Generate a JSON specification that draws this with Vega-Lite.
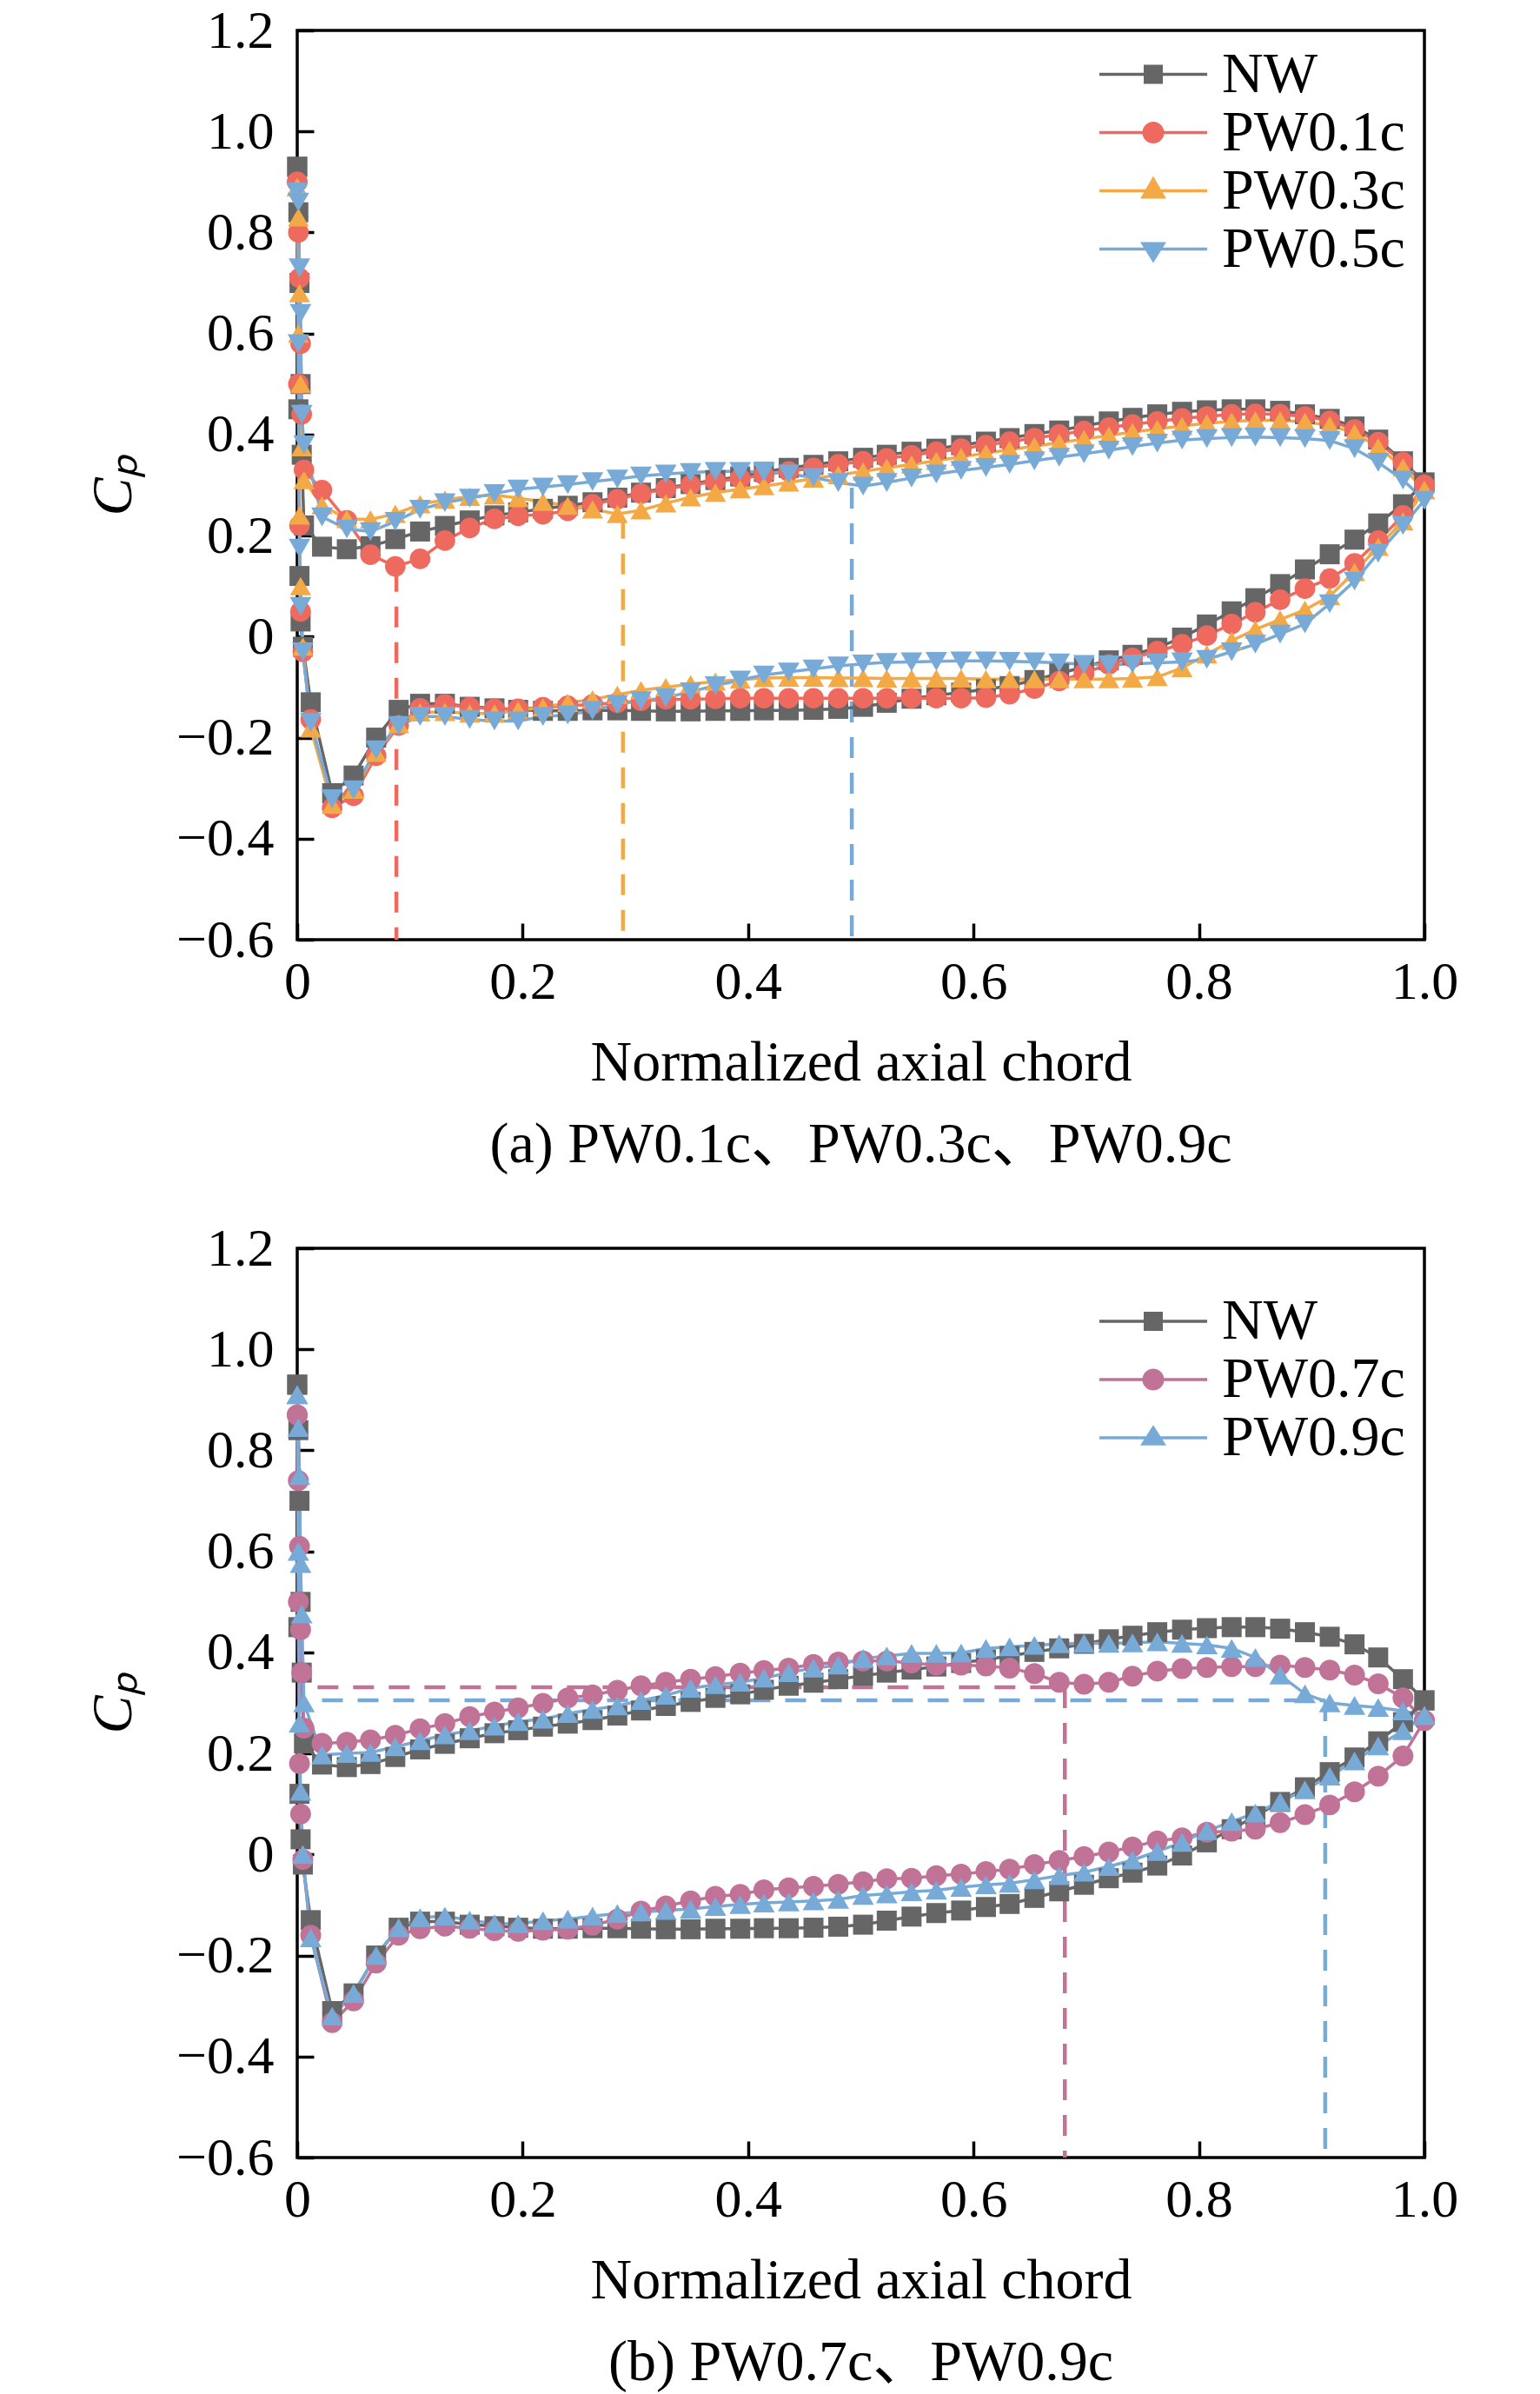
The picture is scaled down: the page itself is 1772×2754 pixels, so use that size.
{
  "$schema": "https://vega.github.io/schema/vega-lite/v6.json",
  "background": "white",
  "padding": {"left": 95, "top": 2, "right": 0, "bottom": 0},
  "spacing": 355,
  "bounds": "flush",
  "resolve": {
    "scale": {"color": "independent", "shape": "independent", "size": "independent", "x": "independent", "y": "independent"},
    "legend": {"shape": "independent", "color": "independent", "size": "independent"}
  },
  "config": {
    "view": {"stroke": "#000", "strokeWidth": 3.5},
    "axis": {
      "domain": false, "grid": false, "ticks": true,
      "tickColor": "#000", "tickWidth": 3.5, "tickSize": -19,
      "labelFont": "Liberation Serif", "labelFontSize": 62, "labelColor": "#000",
      "titleFont": "Liberation Serif", "titleFontSize": 66, "titleFontWeight": "normal", "titleColor": "#000",
      "labelOverlap": false, "labelFlush": false, "labelBound": false
    },
    "axisX": {"labelPadding": 37, "titlePadding": 30},
    "axisY": {"labelPadding": 46, "titlePadding": 38},
    "legend": {
      "title": null, "orient": "none", "padding": 0, "rowPadding": 1,
      "symbolSize": 484, "symbolStrokeWidth": 0, "symbolOpacity": 1,
      "labelOffset": 46, "labelFont": "Liberation Serif", "labelFontSize": 66, "labelColor": "#000", "labelLimit": 0
    },
    "title": {
      "font": "Liberation Serif, Noto Sans CJK SC", "fontSize": 66, "fontWeight": "normal",
      "color": "#000", "orient": "bottom", "offset": 30, "anchor": "middle"
    }
  },
  "datasets": {
    "pa": [
      {"s":"u","x":0,"NW":0.93,"P1":0.90,"P3":0.89,"P5":0.88},
      {"s":"u","x":0.001,"NW":0.84,"P1":0.80,"P3":0.83,"P5":0.86},
      {"s":"u","x":0.002,"NW":0.70,"P1":0.71,"P3":0.68,"P5":0.73},
      {"s":"u","x":0.003,"NW":0.50,"P1":0.58,"P3":0.50,"P5":0.64},
      {"s":"u","x":0.004,"NW":0.36,"P1":0.44,"P3":0.375,"P5":0.44},
      {"s":"u","x":0.006,"NW":0.22,"P1":0.33,"P3":0.31,"P5":0.38},
      {"s":"u","x":0.022,"NW":0.178,"P1":0.290,"P3":0.260,"P5":0.237},
      {"s":"u","x":0.044,"NW":0.173,"P1":0.230,"P3":0.233,"P5":0.213},
      {"s":"u","x":0.065,"NW":0.179,"P1":0.162,"P3":0.232,"P5":0.208},
      {"s":"u","x":0.087,"NW":0.193,"P1":0.139,"P3":0.243,"P5":0.228},
      {"s":"u","x":0.109,"NW":0.208,"P1":0.154,"P3":0.262,"P5":0.252},
      {"s":"u","x":0.131,"NW":0.219,"P1":0.190,"P3":0.271,"P5":0.265},
      {"s":"u","x":0.153,"NW":0.230,"P1":0.215,"P3":0.277,"P5":0.274},
      {"s":"u","x":0.175,"NW":0.240,"P1":0.233,"P3":0.280,"P5":0.283},
      {"s":"u","x":0.196,"NW":0.246,"P1":0.239,"P3":0.274,"P5":0.292},
      {"s":"u","x":0.218,"NW":0.253,"P1":0.242,"P3":0.267,"P5":0.296},
      {"s":"u","x":0.240,"NW":0.259,"P1":0.249,"P3":0.259,"P5":0.301},
      {"s":"u","x":0.262,"NW":0.266,"P1":0.262,"P3":0.252,"P5":0.307},
      {"s":"u","x":0.284,"NW":0.275,"P1":0.272,"P3":0.243,"P5":0.312},
      {"s":"u","x":0.305,"NW":0.285,"P1":0.283,"P3":0.250,"P5":0.318},
      {"s":"u","x":0.327,"NW":0.294,"P1":0.292,"P3":0.264,"P5":0.322},
      {"s":"u","x":0.349,"NW":0.302,"P1":0.300,"P3":0.276,"P5":0.325},
      {"s":"u","x":0.371,"NW":0.310,"P1":0.307,"P3":0.285,"P5":0.327},
      {"s":"u","x":0.393,"NW":0.317,"P1":0.313,"P3":0.292,"P5":0.327},
      {"s":"u","x":0.414,"NW":0.326,"P1":0.320,"P3":0.298,"P5":0.326},
      {"s":"u","x":0.436,"NW":0.334,"P1":0.327,"P3":0.305,"P5":0.322},
      {"s":"u","x":0.458,"NW":0.340,"P1":0.334,"P3":0.313,"P5":0.315},
      {"s":"u","x":0.480,"NW":0.347,"P1":0.341,"P3":0.320,"P5":0.305},
      {"s":"u","x":0.502,"NW":0.354,"P1":0.347,"P3":0.327,"P5":0.298},
      {"s":"u","x":0.523,"NW":0.360,"P1":0.353,"P3":0.334,"P5":0.305},
      {"s":"u","x":0.545,"NW":0.366,"P1":0.359,"P3":0.341,"P5":0.314},
      {"s":"u","x":0.567,"NW":0.372,"P1":0.366,"P3":0.348,"P5":0.322},
      {"s":"u","x":0.589,"NW":0.379,"P1":0.372,"P3":0.356,"P5":0.329},
      {"s":"u","x":0.611,"NW":0.386,"P1":0.379,"P3":0.363,"P5":0.335},
      {"s":"u","x":0.632,"NW":0.393,"P1":0.386,"P3":0.370,"P5":0.341},
      {"s":"u","x":0.654,"NW":0.401,"P1":0.393,"P3":0.377,"P5":0.348},
      {"s":"u","x":0.676,"NW":0.408,"P1":0.400,"P3":0.384,"P5":0.355},
      {"s":"u","x":0.698,"NW":0.417,"P1":0.407,"P3":0.391,"P5":0.362},
      {"s":"u","x":0.720,"NW":0.426,"P1":0.414,"P3":0.398,"P5":0.369},
      {"s":"u","x":0.741,"NW":0.433,"P1":0.420,"P3":0.405,"P5":0.376},
      {"s":"u","x":0.763,"NW":0.440,"P1":0.426,"P3":0.411,"P5":0.383},
      {"s":"u","x":0.785,"NW":0.445,"P1":0.432,"P3":0.417,"P5":0.389},
      {"s":"u","x":0.807,"NW":0.448,"P1":0.436,"P3":0.422,"P5":0.392},
      {"s":"u","x":0.829,"NW":0.450,"P1":0.440,"P3":0.426,"P5":0.394},
      {"s":"u","x":0.850,"NW":0.450,"P1":0.441,"P3":0.428,"P5":0.395},
      {"s":"u","x":0.872,"NW":0.447,"P1":0.440,"P3":0.428,"P5":0.394},
      {"s":"u","x":0.894,"NW":0.440,"P1":0.436,"P3":0.425,"P5":0.392},
      {"s":"u","x":0.916,"NW":0.431,"P1":0.427,"P3":0.418,"P5":0.388},
      {"s":"u","x":0.938,"NW":0.416,"P1":0.410,"P3":0.403,"P5":0.372},
      {"s":"u","x":0.959,"NW":0.390,"P1":0.385,"P3":0.375,"P5":0.345},
      {"s":"u","x":0.981,"NW":0.347,"P1":0.345,"P3":0.335,"P5":0.310},
      {"s":"u","x":1.0,"NW":0.305,"P1":0.300,"P3":0.290,"P5":0.270},
      {"s":"l","x":0,"NW":0.93,"P1":0.90,"P3":0.89,"P5":0.88},
      {"s":"l","x":0.001,"NW":0.45,"P1":0.50,"P3":0.60,"P5":0.58},
      {"s":"l","x":0.002,"NW":0.12,"P1":0.22,"P3":0.24,"P5":0.175},
      {"s":"l","x":0.003,"NW":0.03,"P1":0.05,"P3":0.10,"P5":0.06},
      {"s":"l","x":0.005,"NW":-0.02,"P1":-0.03,"P3":-0.02,"P5":-0.03},
      {"s":"l","x":0.012,"NW":-0.13,"P1":-0.164,"P3":-0.182,"P5":-0.17},
      {"s":"l","x":0.031,"NW":-0.31,"P1":-0.339,"P3":-0.333,"P5":-0.321},
      {"s":"l","x":0.050,"NW":-0.275,"P1":-0.315,"P3":-0.303,"P5":-0.303},
      {"s":"l","x":0.070,"NW":-0.20,"P1":-0.236,"P3":-0.23,"P5":-0.224},
      {"s":"l","x":0.090,"NW":-0.145,"P1":-0.176,"P3":-0.173,"P5":-0.176},
      {"s":"l","x":0.109,"NW":-0.133,"P1":-0.142,"P3":-0.150,"P5":-0.158},
      {"s":"l","x":0.131,"NW":-0.133,"P1":-0.134,"P3":-0.149,"P5":-0.158},
      {"s":"l","x":0.153,"NW":-0.139,"P1":-0.140,"P3":-0.152,"P5":-0.164},
      {"s":"l","x":0.175,"NW":-0.142,"P1":-0.143,"P3":-0.152,"P5":-0.167},
      {"s":"l","x":0.196,"NW":-0.145,"P1":-0.143,"P3":-0.146,"P5":-0.167},
      {"s":"l","x":0.218,"NW":-0.147,"P1":-0.140,"P3":-0.140,"P5":-0.158},
      {"s":"l","x":0.240,"NW":-0.147,"P1":-0.137,"P3":-0.131,"P5":-0.155},
      {"s":"l","x":0.262,"NW":-0.146,"P1":-0.134,"P3":-0.124,"P5":-0.146},
      {"s":"l","x":0.284,"NW":-0.146,"P1":-0.131,"P3":-0.115,"P5":-0.134},
      {"s":"l","x":0.305,"NW":-0.147,"P1":-0.127,"P3":-0.106,"P5":-0.127},
      {"s":"l","x":0.327,"NW":-0.148,"P1":-0.124,"P3":-0.100,"P5":-0.121},
      {"s":"l","x":0.349,"NW":-0.148,"P1":-0.124,"P3":-0.094,"P5":-0.109},
      {"s":"l","x":0.371,"NW":-0.147,"P1":-0.123,"P3":-0.089,"P5":-0.097},
      {"s":"l","x":0.393,"NW":-0.147,"P1":-0.122,"P3":-0.085,"P5":-0.086},
      {"s":"l","x":0.414,"NW":-0.146,"P1":-0.122,"P3":-0.082,"P5":-0.076},
      {"s":"l","x":0.436,"NW":-0.146,"P1":-0.122,"P3":-0.081,"P5":-0.070},
      {"s":"l","x":0.458,"NW":-0.145,"P1":-0.122,"P3":-0.081,"P5":-0.064},
      {"s":"l","x":0.480,"NW":-0.143,"P1":-0.122,"P3":-0.082,"P5":-0.058},
      {"s":"l","x":0.502,"NW":-0.139,"P1":-0.122,"P3":-0.082,"P5":-0.054},
      {"s":"l","x":0.523,"NW":-0.131,"P1":-0.122,"P3":-0.083,"P5":-0.051},
      {"s":"l","x":0.545,"NW":-0.123,"P1":-0.122,"P3":-0.083,"P5":-0.050},
      {"s":"l","x":0.567,"NW":-0.116,"P1":-0.122,"P3":-0.083,"P5":-0.049},
      {"s":"l","x":0.589,"NW":-0.111,"P1":-0.122,"P3":-0.083,"P5":-0.048},
      {"s":"l","x":0.611,"NW":-0.104,"P1":-0.121,"P3":-0.084,"P5":-0.048},
      {"s":"l","x":0.632,"NW":-0.098,"P1":-0.114,"P3":-0.084,"P5":-0.049},
      {"s":"l","x":0.654,"NW":-0.086,"P1":-0.103,"P3":-0.084,"P5":-0.050},
      {"s":"l","x":0.676,"NW":-0.073,"P1":-0.088,"P3":-0.084,"P5":-0.052},
      {"s":"l","x":0.698,"NW":-0.060,"P1":-0.072,"P3":-0.084,"P5":-0.055},
      {"s":"l","x":0.720,"NW":-0.047,"P1":-0.055,"P3":-0.084,"P5":-0.056},
      {"s":"l","x":0.741,"NW":-0.036,"P1":-0.042,"P3":-0.083,"P5":-0.054},
      {"s":"l","x":0.763,"NW":-0.022,"P1":-0.029,"P3":-0.080,"P5":-0.052},
      {"s":"l","x":0.785,"NW":-0.002,"P1":-0.015,"P3":-0.062,"P5":-0.050},
      {"s":"l","x":0.807,"NW":0.024,"P1":0.002,"P3":-0.035,"P5":-0.045},
      {"s":"l","x":0.829,"NW":0.050,"P1":0.025,"P3":-0.008,"P5":-0.030},
      {"s":"l","x":0.850,"NW":0.076,"P1":0.048,"P3":0.014,"P5":-0.015},
      {"s":"l","x":0.872,"NW":0.104,"P1":0.073,"P3":0.034,"P5":0.005},
      {"s":"l","x":0.894,"NW":0.133,"P1":0.095,"P3":0.053,"P5":0.025},
      {"s":"l","x":0.916,"NW":0.163,"P1":0.115,"P3":0.080,"P5":0.065},
      {"s":"l","x":0.938,"NW":0.192,"P1":0.145,"P3":0.128,"P5":0.110},
      {"s":"l","x":0.959,"NW":0.224,"P1":0.190,"P3":0.178,"P5":0.165},
      {"s":"l","x":0.981,"NW":0.262,"P1":0.240,"P3":0.228,"P5":0.220},
      {"s":"l","x":1.0,"NW":0.305,"P1":0.300,"P3":0.290,"P5":0.270}
    ],
    "pb": [
      {"s":"u","x":0,"NW":0.93,"P7":0.87,"P9":0.91},
      {"s":"u","x":0.001,"NW":0.84,"P7":0.74,"P9":0.845},
      {"s":"u","x":0.002,"NW":0.70,"P7":0.61,"P9":0.75},
      {"s":"u","x":0.003,"NW":0.50,"P7":0.445,"P9":0.576},
      {"s":"u","x":0.004,"NW":0.36,"P7":0.36,"P9":0.476},
      {"s":"u","x":0.006,"NW":0.22,"P7":0.25,"P9":0.30},
      {"s":"u","x":0.022,"NW":0.178,"P7":0.220,"P9":0.197},
      {"s":"u","x":0.044,"NW":0.173,"P7":0.222,"P9":0.200},
      {"s":"u","x":0.065,"NW":0.179,"P7":0.227,"P9":0.202},
      {"s":"u","x":0.087,"NW":0.193,"P7":0.236,"P9":0.213},
      {"s":"u","x":0.109,"NW":0.208,"P7":0.249,"P9":0.225},
      {"s":"u","x":0.131,"NW":0.219,"P7":0.259,"P9":0.237},
      {"s":"u","x":0.153,"NW":0.230,"P7":0.273,"P9":0.245},
      {"s":"u","x":0.175,"NW":0.240,"P7":0.282,"P9":0.254},
      {"s":"u","x":0.196,"NW":0.246,"P7":0.290,"P9":0.263},
      {"s":"u","x":0.218,"NW":0.253,"P7":0.299,"P9":0.268},
      {"s":"u","x":0.240,"NW":0.259,"P7":0.310,"P9":0.279},
      {"s":"u","x":0.262,"NW":0.266,"P7":0.316,"P9":0.287},
      {"s":"u","x":0.284,"NW":0.275,"P7":0.325,"P9":0.294},
      {"s":"u","x":0.305,"NW":0.285,"P7":0.334,"P9":0.305},
      {"s":"u","x":0.327,"NW":0.294,"P7":0.341,"P9":0.315},
      {"s":"u","x":0.349,"NW":0.302,"P7":0.347,"P9":0.329},
      {"s":"u","x":0.371,"NW":0.310,"P7":0.352,"P9":0.336},
      {"s":"u","x":0.393,"NW":0.317,"P7":0.359,"P9":0.341},
      {"s":"u","x":0.414,"NW":0.326,"P7":0.364,"P9":0.349},
      {"s":"u","x":0.436,"NW":0.334,"P7":0.369,"P9":0.360},
      {"s":"u","x":0.458,"NW":0.340,"P7":0.376,"P9":0.369},
      {"s":"u","x":0.480,"NW":0.347,"P7":0.381,"P9":0.375},
      {"s":"u","x":0.502,"NW":0.354,"P7":0.383,"P9":0.388},
      {"s":"u","x":0.523,"NW":0.360,"P7":0.383,"P9":0.393},
      {"s":"u","x":0.545,"NW":0.366,"P7":0.379,"P9":0.398},
      {"s":"u","x":0.567,"NW":0.372,"P7":0.375,"P9":0.398},
      {"s":"u","x":0.589,"NW":0.379,"P7":0.375,"P9":0.399},
      {"s":"u","x":0.611,"NW":0.386,"P7":0.373,"P9":0.408},
      {"s":"u","x":0.632,"NW":0.393,"P7":0.369,"P9":0.411},
      {"s":"u","x":0.654,"NW":0.401,"P7":0.358,"P9":0.414},
      {"s":"u","x":0.676,"NW":0.408,"P7":0.341,"P9":0.417},
      {"s":"u","x":0.698,"NW":0.417,"P7":0.337,"P9":0.418},
      {"s":"u","x":0.720,"NW":0.426,"P7":0.341,"P9":0.418},
      {"s":"u","x":0.741,"NW":0.433,"P7":0.353,"P9":0.419},
      {"s":"u","x":0.763,"NW":0.440,"P7":0.363,"P9":0.421},
      {"s":"u","x":0.785,"NW":0.445,"P7":0.368,"P9":0.418},
      {"s":"u","x":0.807,"NW":0.448,"P7":0.370,"P9":0.415},
      {"s":"u","x":0.829,"NW":0.450,"P7":0.372,"P9":0.408},
      {"s":"u","x":0.850,"NW":0.450,"P7":0.372,"P9":0.390},
      {"s":"u","x":0.872,"NW":0.447,"P7":0.375,"P9":0.355},
      {"s":"u","x":0.894,"NW":0.440,"P7":0.370,"P9":0.318},
      {"s":"u","x":0.916,"NW":0.431,"P7":0.365,"P9":0.300},
      {"s":"u","x":0.938,"NW":0.416,"P7":0.355,"P9":0.295},
      {"s":"u","x":0.959,"NW":0.390,"P7":0.338,"P9":0.291},
      {"s":"u","x":0.981,"NW":0.347,"P7":0.310,"P9":0.284},
      {"s":"u","x":1.0,"NW":0.305,"P7":0.265,"P9":0.275},
      {"s":"l","x":0,"NW":0.93,"P7":0.87,"P9":0.91},
      {"s":"l","x":0.001,"NW":0.45,"P7":0.50,"P9":0.60},
      {"s":"l","x":0.002,"NW":0.12,"P7":0.18,"P9":0.26},
      {"s":"l","x":0.003,"NW":0.03,"P7":0.08,"P9":0.125},
      {"s":"l","x":0.005,"NW":-0.02,"P7":-0.01,"P9":0.0},
      {"s":"l","x":0.012,"NW":-0.13,"P7":-0.16,"P9":-0.165},
      {"s":"l","x":0.031,"NW":-0.31,"P7":-0.333,"P9":-0.32},
      {"s":"l","x":0.050,"NW":-0.275,"P7":-0.29,"P9":-0.275},
      {"s":"l","x":0.070,"NW":-0.20,"P7":-0.215,"P9":-0.20},
      {"s":"l","x":0.090,"NW":-0.145,"P7":-0.16,"P9":-0.145},
      {"s":"l","x":0.109,"NW":-0.133,"P7":-0.147,"P9":-0.125},
      {"s":"l","x":0.131,"NW":-0.133,"P7":-0.142,"P9":-0.122},
      {"s":"l","x":0.153,"NW":-0.139,"P7":-0.146,"P9":-0.130},
      {"s":"l","x":0.175,"NW":-0.142,"P7":-0.151,"P9":-0.137},
      {"s":"l","x":0.196,"NW":-0.145,"P7":-0.152,"P9":-0.137},
      {"s":"l","x":0.218,"NW":-0.147,"P7":-0.150,"P9":-0.131},
      {"s":"l","x":0.240,"NW":-0.147,"P7":-0.148,"P9":-0.128},
      {"s":"l","x":0.262,"NW":-0.146,"P7":-0.140,"P9":-0.122},
      {"s":"l","x":0.284,"NW":-0.146,"P7":-0.128,"P9":-0.117},
      {"s":"l","x":0.305,"NW":-0.147,"P7":-0.112,"P9":-0.114},
      {"s":"l","x":0.327,"NW":-0.148,"P7":-0.102,"P9":-0.111},
      {"s":"l","x":0.349,"NW":-0.148,"P7":-0.092,"P9":-0.108},
      {"s":"l","x":0.371,"NW":-0.147,"P7":-0.083,"P9":-0.103},
      {"s":"l","x":0.393,"NW":-0.147,"P7":-0.079,"P9":-0.099},
      {"s":"l","x":0.414,"NW":-0.146,"P7":-0.070,"P9":-0.096},
      {"s":"l","x":0.436,"NW":-0.146,"P7":-0.066,"P9":-0.094},
      {"s":"l","x":0.458,"NW":-0.145,"P7":-0.063,"P9":-0.092},
      {"s":"l","x":0.480,"NW":-0.143,"P7":-0.059,"P9":-0.089},
      {"s":"l","x":0.502,"NW":-0.139,"P7":-0.054,"P9":-0.081},
      {"s":"l","x":0.523,"NW":-0.131,"P7":-0.048,"P9":-0.078},
      {"s":"l","x":0.545,"NW":-0.123,"P7":-0.047,"P9":-0.074},
      {"s":"l","x":0.567,"NW":-0.116,"P7":-0.042,"P9":-0.071},
      {"s":"l","x":0.589,"NW":-0.111,"P7":-0.039,"P9":-0.065},
      {"s":"l","x":0.611,"NW":-0.104,"P7":-0.034,"P9":-0.060},
      {"s":"l","x":0.632,"NW":-0.098,"P7":-0.029,"P9":-0.057},
      {"s":"l","x":0.654,"NW":-0.086,"P7":-0.020,"P9":-0.050},
      {"s":"l","x":0.676,"NW":-0.073,"P7":-0.012,"P9":-0.042},
      {"s":"l","x":0.698,"NW":-0.060,"P7":-0.004,"P9":-0.035},
      {"s":"l","x":0.720,"NW":-0.047,"P7":0.005,"P9":-0.024},
      {"s":"l","x":0.741,"NW":-0.036,"P7":0.015,"P9":-0.011},
      {"s":"l","x":0.763,"NW":-0.022,"P7":0.027,"P9":0.006},
      {"s":"l","x":0.785,"NW":-0.002,"P7":0.033,"P9":0.024},
      {"s":"l","x":0.807,"NW":0.024,"P7":0.044,"P9":0.047},
      {"s":"l","x":0.829,"NW":0.050,"P7":0.046,"P9":0.065},
      {"s":"l","x":0.850,"NW":0.076,"P7":0.050,"P9":0.082},
      {"s":"l","x":0.872,"NW":0.104,"P7":0.063,"P9":0.104},
      {"s":"l","x":0.894,"NW":0.133,"P7":0.079,"P9":0.128},
      {"s":"l","x":0.916,"NW":0.163,"P7":0.098,"P9":0.155},
      {"s":"l","x":0.938,"NW":0.192,"P7":0.124,"P9":0.185},
      {"s":"l","x":0.959,"NW":0.224,"P7":0.155,"P9":0.215},
      {"s":"l","x":0.981,"NW":0.262,"P7":0.195,"P9":0.245},
      {"s":"l","x":1.0,"NW":0.305,"P7":0.265,"P9":0.275}
    ],
    "da": [
      {"s":"P1","x":0.088,"x2":0.088,"y":0.13,"y2":-0.6},
      {"s":"P3","x":0.289,"x2":0.289,"y":0.235,"y2":-0.6},
      {"s":"P5","x":0.492,"x2":0.492,"y":0.295,"y2":-0.6}
    ],
    "db": [
      {"s":"P7","x":0.018,"x2":0.681,"y":0.331,"y2":0.331},
      {"s":"P7","x":0.681,"x2":0.681,"y":0.331,"y2":-0.6},
      {"s":"P9","x":0.022,"x2":0.912,"y":0.305,"y2":0.305},
      {"s":"P9","x":0.912,"x2":0.912,"y":0.305,"y2":-0.6}
    ]
  },
  "vconcat": [
    {
      "width": 1297,
      "height": 1046,
      "title": {"text": "(a) PW0.1c、PW0.3c、PW0.9c"},
      "resolve": {
        "scale": {"color": "independent", "shape": "independent", "size": "independent"},
        "legend": {"color": "independent", "shape": "independent", "size": "independent"}
      },
      "layer": [
        {
          "data": {"name": "da"},
          "mark": {"type": "rule", "strokeDash": [24, 17], "strokeWidth": 4.5},
          "encoding": {
            "x": {"field": "x", "type": "quantitative", "scale": {"domain": [0, 1], "nice": false, "zero": false}},
            "x2": {"field": "x2"},
            "y": {"field": "y", "type": "quantitative", "scale": {"domain": [-0.6, 1.2], "nice": false, "zero": false}},
            "y2": {"field": "y2"},
            "color": {"field": "s", "type": "nominal", "legend": null,
              "scale": {"domain": ["NW", "P1", "P3", "P5"], "range": ["#666666", "#EE6A5E", "#F4A947", "#78AAD8"]}}
          }
        },
        {
          "data": {"name": "pa"},
          "transform": [
            {"fold": ["NW", "P1", "P3", "P5"], "as": ["series", "cp"]},
            {"filter": "isValid(datum.cp)"}
          ],
          "mark": {"type": "line", "strokeWidth": 3.5},
          "encoding": {
            "x": {"field": "x", "type": "quantitative",
              "axis": {"title": "Normalized axial chord", "values": [0, 0.2, 0.4, 0.6, 0.8, 1],
                "labelExpr": "datum.value === 0 ? '0' : format(datum.value, '.1f')"}},
            "y": {"field": "cp", "type": "quantitative",
              "axis": {"title": "Cₚ", "titleFontStyle": "italic", "values": [-0.6, -0.4, -0.2, 0, 0.2, 0.4, 0.6, 0.8, 1.0, 1.2],
                "labelExpr": "datum.value === 0 ? '0' : format(datum.value, '.1f')"}},
            "color": {"field": "series", "type": "nominal", "legend": null,
              "scale": {"domain": ["NW", "P1", "P3", "P5"], "range": ["#666666", "#EE6A5E", "#F4A947", "#78AAD8"]}},
            "detail": {"field": "s"}
          }
        },
        {
          "data": {"name": "pa"},
          "transform": [
            {"fold": ["NW", "P1", "P3", "P5"], "as": ["series", "cp"]},
            {"filter": "isValid(datum.cp)"}
          ],
          "mark": {"type": "point", "filled": true, "opacity": 1, "strokeWidth": 0},
          "encoding": {
            "x": {"field": "x", "type": "quantitative"},
            "y": {"field": "cp", "type": "quantitative"},
            "order": {"field": "series", "type": "ordinal"},
            "color": {"field": "series", "type": "nominal", "legend": null,
              "scale": {"domain": ["NW", "P1", "P3", "P5"], "range": ["#666666", "#EE6A5E", "#F4A947", "#78AAD8"]}},
            "size": {"field": "series", "type": "nominal", "legend": null,
              "scale": {"domain": ["NW", "P1", "P3", "P5"], "range": [529, 620, 850, 850]}},
            "shape": {"field": "series", "type": "nominal", "legend": null,
              "scale": {"domain": ["NW", "P1", "P3", "P5"], "range": ["square", "circle", "triangle-up", "triangle-down"]}}
          }
        },
        {
          "data": {"name": "pa"},
          "transform": [
            {"fold": ["NW", "P1", "P3", "P5"], "as": ["series", "cp"]},
            {"filter": "false"}
          ],
          "mark": {"type": "point", "filled": true, "opacity": 1},
          "encoding": {
            "x": {"field": "x", "type": "quantitative"},
            "y": {"field": "cp", "type": "quantitative"},
            "color": {"field": "series", "type": "nominal",
              "scale": {"domain": ["NW", "P1", "P3", "P5"], "range": ["#666666", "#EE6A5E", "#F4A947", "#78AAD8"]},
              "legend": {"legendX": 952, "legendY": 17.5,
                "labelExpr": "datum.label === 'P1' ? 'PW0.1c' : datum.label === 'P3' ? 'PW0.3c' : datum.label === 'P5' ? 'PW0.5c' : datum.label"}},
            "shape": {"field": "series", "type": "nominal",
              "scale": {"domain": ["NW", "P1", "P3", "P5"], "range": [
                "M-5.64,-0.16H5.64V0.16H-5.64ZM-1,-1H1V1H-1Z",
                "M-5.64,-0.16H5.64V0.16H-5.64ZM1.14,0A1.14,1.14,0,1,1,-1.14,0A1.14,1.14,0,1,1,1.14,0Z",
                "M-5.64,-0.16H5.64V0.16H-5.64ZM0,-1.55L1.36,0.82L-1.36,0.82Z",
                "M-5.64,-0.16H5.64V0.16H-5.64ZM0,1.45L-1.36,-0.73L1.36,-0.73Z"]},
              "legend": {"legendX": 952, "legendY": 17.5,
                "labelExpr": "datum.label === 'P1' ? 'PW0.1c' : datum.label === 'P3' ? 'PW0.3c' : datum.label === 'P5' ? 'PW0.5c' : datum.label"}}
          }
        }
      ]
    },
    {
      "width": 1297,
      "height": 1046,
      "title": {"text": "(b) PW0.7c、PW0.9c"},
      "resolve": {
        "scale": {"color": "independent", "shape": "independent", "size": "independent"},
        "legend": {"color": "independent", "shape": "independent", "size": "independent"}
      },
      "layer": [
        {
          "data": {"name": "db"},
          "mark": {"type": "rule", "strokeDash": [24, 17], "strokeWidth": 4.5},
          "encoding": {
            "x": {"field": "x", "type": "quantitative", "scale": {"domain": [0, 1], "nice": false, "zero": false}},
            "x2": {"field": "x2"},
            "y": {"field": "y", "type": "quantitative", "scale": {"domain": [-0.6, 1.2], "nice": false, "zero": false}},
            "y2": {"field": "y2"},
            "color": {"field": "s", "type": "nominal", "legend": null,
              "scale": {"domain": ["NW", "P7", "P9"], "range": ["#666666", "#C07397", "#78AAD8"]}}
          }
        },
        {
          "data": {"name": "pb"},
          "transform": [
            {"fold": ["NW", "P7", "P9"], "as": ["series", "cp"]},
            {"filter": "isValid(datum.cp)"}
          ],
          "mark": {"type": "line", "strokeWidth": 3.5},
          "encoding": {
            "x": {"field": "x", "type": "quantitative",
              "axis": {"title": "Normalized axial chord", "values": [0, 0.2, 0.4, 0.6, 0.8, 1],
                "labelExpr": "datum.value === 0 ? '0' : format(datum.value, '.1f')"}},
            "y": {"field": "cp", "type": "quantitative",
              "axis": {"title": "Cₚ", "titleFontStyle": "italic", "values": [-0.6, -0.4, -0.2, 0, 0.2, 0.4, 0.6, 0.8, 1.0, 1.2],
                "labelExpr": "datum.value === 0 ? '0' : format(datum.value, '.1f')"}},
            "color": {"field": "series", "type": "nominal", "legend": null,
              "scale": {"domain": ["NW", "P7", "P9"], "range": ["#666666", "#C07397", "#78AAD8"]}},
            "detail": {"field": "s"}
          }
        },
        {
          "data": {"name": "pb"},
          "transform": [
            {"fold": ["NW", "P7", "P9"], "as": ["series", "cp"]},
            {"filter": "isValid(datum.cp)"}
          ],
          "mark": {"type": "point", "filled": true, "opacity": 1, "strokeWidth": 0},
          "encoding": {
            "x": {"field": "x", "type": "quantitative"},
            "y": {"field": "cp", "type": "quantitative"},
            "order": {"field": "series", "type": "ordinal"},
            "color": {"field": "series", "type": "nominal", "legend": null,
              "scale": {"domain": ["NW", "P7", "P9"], "range": ["#666666", "#C07397", "#78AAD8"]}},
            "size": {"field": "series", "type": "nominal", "legend": null,
              "scale": {"domain": ["NW", "P7", "P9"], "range": [529, 620, 850]}},
            "shape": {"field": "series", "type": "nominal", "legend": null,
              "scale": {"domain": ["NW", "P7", "P9"], "range": ["square", "circle", "triangle-up"]}}
          }
        },
        {
          "data": {"name": "pb"},
          "transform": [
            {"fold": ["NW", "P7", "P9"], "as": ["series", "cp"]},
            {"filter": "false"}
          ],
          "mark": {"type": "point", "filled": true, "opacity": 1},
          "encoding": {
            "x": {"field": "x", "type": "quantitative"},
            "y": {"field": "cp", "type": "quantitative"},
            "color": {"field": "series", "type": "nominal",
              "scale": {"domain": ["NW", "P7", "P9"], "range": ["#666666", "#C07397", "#78AAD8"]},
              "legend": {"legendX": 952, "legendY": 51,
                "labelExpr": "datum.label === 'P7' ? 'PW0.7c' : datum.label === 'P9' ? 'PW0.9c' : datum.label"}},
            "shape": {"field": "series", "type": "nominal",
              "scale": {"domain": ["NW", "P7", "P9"], "range": [
                "M-5.64,-0.16H5.64V0.16H-5.64ZM-1,-1H1V1H-1Z",
                "M-5.64,-0.16H5.64V0.16H-5.64ZM1.14,0A1.14,1.14,0,1,1,-1.14,0A1.14,1.14,0,1,1,1.14,0Z",
                "M-5.64,-0.16H5.64V0.16H-5.64ZM0,-1.35L1.36,0.8L-1.36,0.8Z"]},
              "legend": {"legendX": 952, "legendY": 51,
                "labelExpr": "datum.label === 'P7' ? 'PW0.7c' : datum.label === 'P9' ? 'PW0.9c' : datum.label"}}
          }
        }
      ]
    }
  ]
}
